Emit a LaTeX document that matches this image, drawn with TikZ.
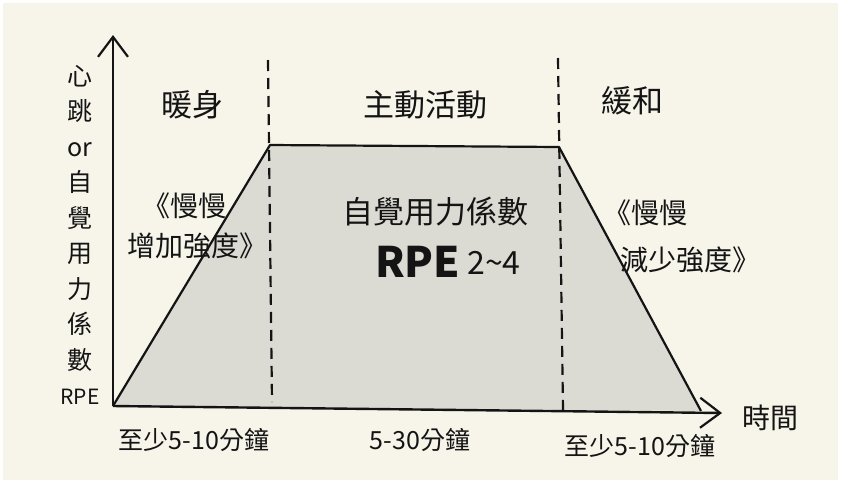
\documentclass[tikz,border=0pt]{standalone}
\usepackage{fontspec}
\setmainfont{Noto Sans CJK TC}
\newfontfamily\cjk{Noto Sans CJK TC}
\usetikzlibrary{arrows.meta}
\definecolor{bgcream}{RGB}{247,244,234}
\definecolor{fillgray}{RGB}{219,219,211}
\definecolor{ink}{RGB}{20,20,20}
\begin{document}
\begin{tikzpicture}[x=1pt,y=-1pt,
  axisline/.style={draw=ink,line width=2.4pt,-{Straight Barb[length=20pt,width=30pt,line width=2.2pt]}},
  edge/.style={draw=ink,line width=2.2pt,line join=round},
  divider/.style={draw=ink,line width=2.2pt,dash pattern=on 11pt off 7pt},
  lab/.style={text=ink,font=\cjk\fontsize{28}{32}\selectfont,inner sep=0pt},
  foot/.style={text=ink,font=\cjk\fontsize{25}{30}\selectfont,inner sep=0pt},
  head/.style={text=ink,font=\cjk\fontsize{31}{34}\selectfont,inner sep=0pt}]
\useasboundingbox (0,0) rectangle (853,488);
\fill[white] (0,0) rectangle (853,488);
\fill[bgcream] (3,3) rectangle (838,480);
% coordinates
\coordinate (O) at (113,406);
\coordinate (Ytop) at (113,35);
\coordinate (Xend) at (722,413);
\coordinate (A) at (113,406);
\coordinate (B) at (270,145);
\coordinate (C) at (559,147);
\coordinate (D) at (701,411);
\coordinate (L1t) at (268,60);
\coordinate (L1b) at (272,402);
\coordinate (L2t) at (558,58);
\coordinate (L2b) at (563,410);
% trapezoid
\fill[fillgray] (A) -- (B) -- (C) -- (D) -- cycle;
\draw[edge] (A) -- (B) -- (C) -- (D);
% dividers
\draw[divider] (L1t) -- (L1b);
\draw[divider] (L2t) -- (L2b);
% axes
\draw[axisline] (O) -- (Ytop);
\draw[axisline] (O) -- (Xend);
% headers
\node[head] (warm) at (192,105) {暖身};
\node[head] (active) at (425,105) {主動活動};
\node[head] (cool) at (632,101) {緩和};
% side notes
\node[lab] (inc1) at (184,206) {《慢慢};
\node[lab] (inc2) at (197,246) {增加強度》};
\node[lab] (dec1) at (645,213) {《慢慢};
\node[lab] (dec2) at (690,260) {減少強度》};
% centre text
\node[head] (rpe1) at (435,212) {自覺用力係數};
\node[text=ink,inner sep=0pt,anchor=base west] (rpe2) at (375,277) {\cjk\fontsize{42}{44}\selectfont\bfseries RPE\,\fontsize{32}{34}\selectfont\mdseries\raisebox{3pt}{2\textasciitilde 4}};
% y-axis label
\node[text=ink,inner sep=0pt,align=center,font=\cjk\fontsize{25}{35.5}\selectfont] (ylab) at (80,235) {心\\跳\\or\\自\\覺\\用\\力\\係\\數\\{\fontsize{21}{20}\selectfont RPE}};
% bottom labels
\node[foot] (t1) at (194,440) {至少5-10分鐘};
\node[foot] (t2) at (420,440) {5-30分鐘};
\node[foot] (t3) at (640,446) {至少5-10分鐘};
\node[lab] (time) at (770,418) {時間};
\end{tikzpicture}
\end{document}
